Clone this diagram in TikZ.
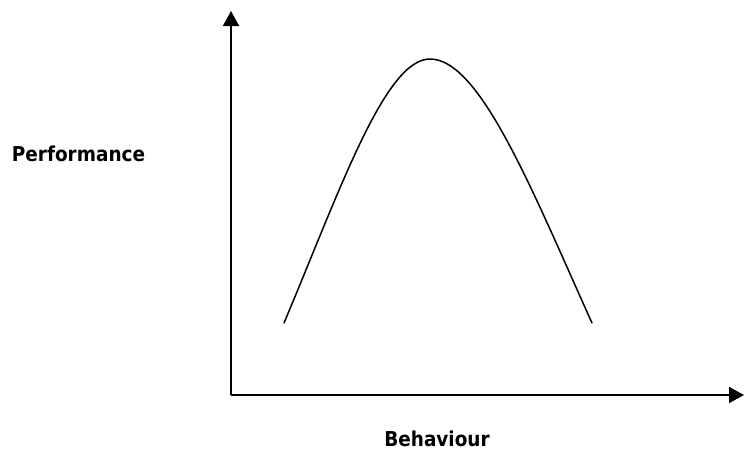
\documentclass[tikz,border=0pt]{standalone}
\usepackage{fontspec}
\setmainfont{DejaVu Sans Condensed}
\usetikzlibrary{arrows.meta}
\tikzstyle{every node}=[font=\fontsize{20.5}{24}\selectfont\bfseries,anchor=base,inner sep=0pt]
\tikzstyle{every path}=[line width=1.7pt,line cap=round,line join=round]
\tikzstyle{axis}=[-{Triangle[width=16pt,length=15pt]},line cap=butt]

\begin{document}
\begin{tikzpicture}[x=1pt,y=-1pt]
\useasboundingbox (0,0) rectangle (744,450);
%Axes
	\coordinate (O) at (231,395) ; %% origin of the axes
	\coordinate (Ytop) at (231,11) ; %% tip of the vertical axis
	\coordinate (Xend) at (744,395) ; %% tip of the horizontal axis
	\draw [axis] (O) -- (Ytop);
	\draw [axis] (O) -- (Xend);
	%curve
	\coordinate (Cstart) at (284,323) ;
	\coordinate (Cpeak) at (430,59) ;
	\coordinate (Cend) at (592,323) ;
	\draw [line width=1.5pt] (Cstart) .. controls (340,190) and (385,59) .. (Cpeak) .. controls (480,59) and (532,190) .. (Cend);
	%labels
	\node (perf) at (78.5,161.5) {Performance};
	\node (behav) at (437,446.5) {Behaviour};
\end{tikzpicture}
\end{document}
